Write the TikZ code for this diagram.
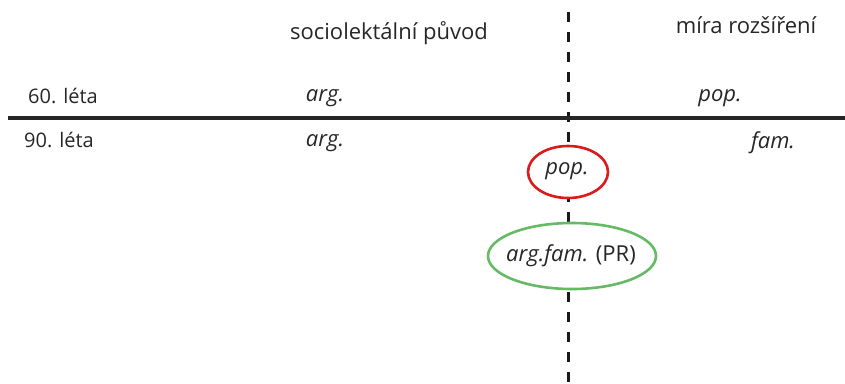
\documentclass[tikz,border=0pt]{standalone}
\usepackage{fontspec}
\setmainfont{Open Sans}
\usetikzlibrary{shapes.geometric}
\begin{document}
\begin{tikzpicture}[x=1pt,y=-1pt,
  lbl/.style={font=\fontsize{22}{26}\selectfont, inner sep=0pt, text=black!85},
  row/.style={lbl, font=\fontsize{20}{24}\selectfont},
  it/.style={lbl, font=\fontsize{22}{26}\selectfont\itshape},
  ring/.style={ellipse, draw, line width=2.6pt, inner sep=0pt}
]
\useasboundingbox (0,0) rectangle (845,383);
% axes
\coordinate (vtop) at (568,12);
\coordinate (vbot) at (568,383);
\coordinate (hl) at (8,118);
\coordinate (hr) at (845,118);
\draw[line width=3pt, dash pattern=on 10pt off 10pt, black!90] (vtop) -- (vbot);
\draw[line width=3.5pt, black!85] (hl) -- (hr);
% column headings
\node[lbl] (h1) at (389,33) {sociolektální původ};
\node[lbl] (h2) at (746,25) {míra rozšíření};
% rows
\node[row, anchor=west] (r60) at (28,96) {60. léta};
\node[it] (a60) at (325,98) {arg.};
\node[it] (p60) at (720,98) {pop.};
\node[row, anchor=west] (r90) at (24,140) {90. léta};
\node[it] (a90) at (325,143) {arg.};
\node[it] (f90) at (773,143) {fam.};
% marked items
\node[ring, draw=red!85!black!90, fill=white, minimum width=80pt, minimum height=52pt] (e1) at (568,172) {};
\node[it] (t1) at (567,171) {pop.};
\node[ring, draw=green!55!black!60, fill=white, minimum width=168pt, minimum height=66pt] (e2) at (572,256) {};
\node[lbl] (t2) at (571,256) {\itshape arg.fam.\upshape{} (PR)};
\end{tikzpicture}
\end{document}
